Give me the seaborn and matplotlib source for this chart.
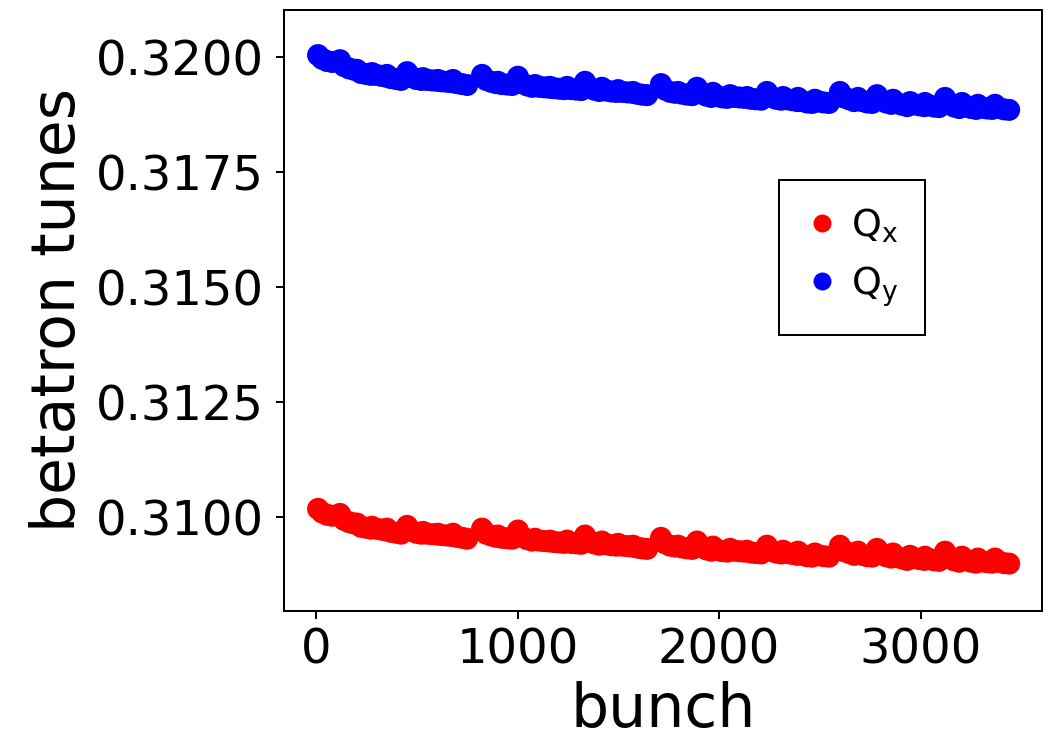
import matplotlib
matplotlib.use("Agg")
import matplotlib.pyplot as plt
from matplotlib.lines import Line2D
from matplotlib.ticker import FormatStrFormatter
import pandas as pd
import seaborn as sns

# first slot of each bunch train along the ring
train_start = [10, 119, 203, 278, 352, 452, 531, 605, 680, 824, 903, 1002, 1087,
               1161, 1246, 1335, 1419, 1499, 1573, 1712, 1797, 1891, 1970, 2055,
               2139, 2238, 2318, 2392, 2476, 2600, 2690, 2784, 2864, 2948, 3022,
               3122, 3206, 3285, 3370]
# sampled bunches inside a train (slots after the train head)
bunch_offset = [0, 20, 45, 70]

# horizontal tune of the sampled bunches, one row per train
qx_train = [
    [0.31018, 0.31010, 0.31005, 0.31003],
    [0.31007, 0.30994, 0.30989, 0.30986],
    [0.30986, 0.30979, 0.30977, 0.30975],
    [0.30979, 0.30975, 0.30973, 0.30971],
    [0.30975, 0.30968, 0.30966, 0.30964],
    [0.30981, 0.30971, 0.30966, 0.30964],
    [0.30968, 0.30964, 0.30963, 0.30962],
    [0.30964, 0.30961, 0.30960, 0.30959],
    [0.30964, 0.30957, 0.30955, 0.30953],
    [0.30975, 0.30964, 0.30960, 0.30957],
    [0.30960, 0.30955, 0.30954, 0.30953],
    [0.30971, 0.30957, 0.30952, 0.30949],
    [0.30953, 0.30949, 0.30948, 0.30947],
    [0.30949, 0.30946, 0.30945, 0.30944],
    [0.30949, 0.30944, 0.30943, 0.30942],
    [0.30960, 0.30948, 0.30943, 0.30940],
    [0.30947, 0.30941, 0.30939, 0.30938],
    [0.30942, 0.30938, 0.30937, 0.30936],
    [0.30938, 0.30934, 0.30932, 0.30931],
    [0.30955, 0.30943, 0.30938, 0.30936],
    [0.30938, 0.30934, 0.30932, 0.30931],
    [0.30947, 0.30935, 0.30930, 0.30927],
    [0.30936, 0.30929, 0.30926, 0.30925],
    [0.30931, 0.30927, 0.30926, 0.30925],
    [0.30927, 0.30923, 0.30922, 0.30921],
    [0.30938, 0.30927, 0.30923, 0.30921],
    [0.30927, 0.30922, 0.30920, 0.30918],
    [0.30925, 0.30918, 0.30915, 0.30914],
    [0.30921, 0.30917, 0.30915, 0.30914],
    [0.30938, 0.30926, 0.30922, 0.30918],
    [0.30925, 0.30918, 0.30915, 0.30914],
    [0.30931, 0.30920, 0.30915, 0.30912],
    [0.30921, 0.30913, 0.30910, 0.30907],
    [0.30916, 0.30911, 0.30909, 0.30907],
    [0.30914, 0.30909, 0.30906, 0.30905],
    [0.30925, 0.30912, 0.30906, 0.30903],
    [0.30914, 0.30906, 0.30903, 0.30901],
    [0.30910, 0.30904, 0.30902, 0.30901],
    [0.30910, 0.30903, 0.30900, 0.30899],
]

# vertical tune of the sampled bunches, one row per train
qy_train = [
    [0.32004, 0.31996, 0.31991, 0.31989],
    [0.31993, 0.31980, 0.31975, 0.31972],
    [0.31972, 0.31965, 0.31963, 0.31961],
    [0.31965, 0.31961, 0.31959, 0.31957],
    [0.31961, 0.31954, 0.31952, 0.31950],
    [0.31967, 0.31957, 0.31952, 0.31950],
    [0.31954, 0.31950, 0.31949, 0.31948],
    [0.31950, 0.31947, 0.31946, 0.31945],
    [0.31950, 0.31943, 0.31941, 0.31939],
    [0.31961, 0.31950, 0.31946, 0.31943],
    [0.31946, 0.31941, 0.31940, 0.31939],
    [0.31957, 0.31943, 0.31938, 0.31935],
    [0.31939, 0.31935, 0.31934, 0.31933],
    [0.31935, 0.31932, 0.31931, 0.31930],
    [0.31935, 0.31930, 0.31929, 0.31928],
    [0.31946, 0.31934, 0.31929, 0.31926],
    [0.31933, 0.31927, 0.31925, 0.31924],
    [0.31928, 0.31924, 0.31923, 0.31922],
    [0.31924, 0.31920, 0.31918, 0.31917],
    [0.31941, 0.31929, 0.31924, 0.31922],
    [0.31924, 0.31920, 0.31918, 0.31917],
    [0.31933, 0.31921, 0.31916, 0.31913],
    [0.31922, 0.31915, 0.31912, 0.31911],
    [0.31917, 0.31913, 0.31912, 0.31911],
    [0.31913, 0.31909, 0.31908, 0.31907],
    [0.31924, 0.31913, 0.31909, 0.31907],
    [0.31913, 0.31908, 0.31906, 0.31904],
    [0.31911, 0.31904, 0.31901, 0.31900],
    [0.31907, 0.31903, 0.31901, 0.31900],
    [0.31924, 0.31912, 0.31908, 0.31904],
    [0.31911, 0.31904, 0.31901, 0.31900],
    [0.31917, 0.31906, 0.31901, 0.31898],
    [0.31907, 0.31899, 0.31896, 0.31893],
    [0.31902, 0.31897, 0.31895, 0.31893],
    [0.31900, 0.31895, 0.31892, 0.31891],
    [0.31911, 0.31898, 0.31892, 0.31889],
    [0.31900, 0.31892, 0.31889, 0.31887],
    [0.31896, 0.31890, 0.31888, 0.31887],
    [0.31896, 0.31889, 0.31886, 0.31885],
]

plane_labels = [r"Q$_\mathregular{x}$", r"Q$_\mathregular{y}$"]
plane_colors = ["#ff0000", "#0000ff"]
x_ticks = [0, 1000, 2000, 3000]
y_ticks = [0.3100, 0.3125, 0.3150, 0.3175, 0.3200]

# long-form table: one row per sampled bunch and plane
rows = []
for label, trains in zip(plane_labels, [qx_train, qy_train]):
    for start, values in zip(train_start, trains):
        for off, q in zip(bunch_offset, values):
            rows.append({"bunch": start + off, "tune": q, "plane": label})
df = pd.DataFrame(rows)

sns.set_style("ticks")
plt.rcParams["font.family"] = ["DejaVu Sans"]
plt.rcParams["mathtext.default"] = "regular"

fig = plt.figure(figsize=(1051 / 144, 739 / 144), dpi=144)
ax = fig.add_axes([284 / 1051, 1 - 611 / 739, (1042 - 284) / 1051, (611 - 10) / 739])

palette = dict(zip(plane_labels, plane_colors))
sns.scatterplot(data=df, x="bunch", y="tune", hue="plane", palette=palette,
                s=121, linewidth=0, ax=ax, legend=False)

ax.set_xlim(-159, 3603)
ax.set_ylim(0.30796, 0.32102)
ax.set_xticks(x_ticks)
ax.set_yticks(y_ticks)
ax.yaxis.set_major_formatter(FormatStrFormatter("%.4f"))
ax.tick_params(axis="both", labelsize=24, color="black", length=4, width=1,
               direction="out", labelcolor="black")
ax.tick_params(axis="y", pad=6)
for sp in ax.spines.values():
    sp.set_visible(True)
    sp.set_color("black")
    sp.set_linewidth(1.0)

ax.set_xlabel("bunch", fontsize=30, color="black")
ax.set_ylabel("betatron tunes", fontsize=30, color="black")

handles = [Line2D([], [], marker="o", linestyle="none", markersize=9,
                  markerfacecolor=c, markeredgewidth=0) for c in plane_colors]
leg = ax.legend(handles, plane_labels, loc="center", bbox_to_anchor=(0.749, 0.588),
                fontsize=19, frameon=True, fancybox=False, framealpha=1,
                edgecolor="black", borderpad=0.7, labelspacing=0.5,
                handlelength=0.9, handletextpad=0.3, labelcolor="black")
leg.get_frame().set_linewidth(1.0)

fig.savefig("out.png", dpi=144)
